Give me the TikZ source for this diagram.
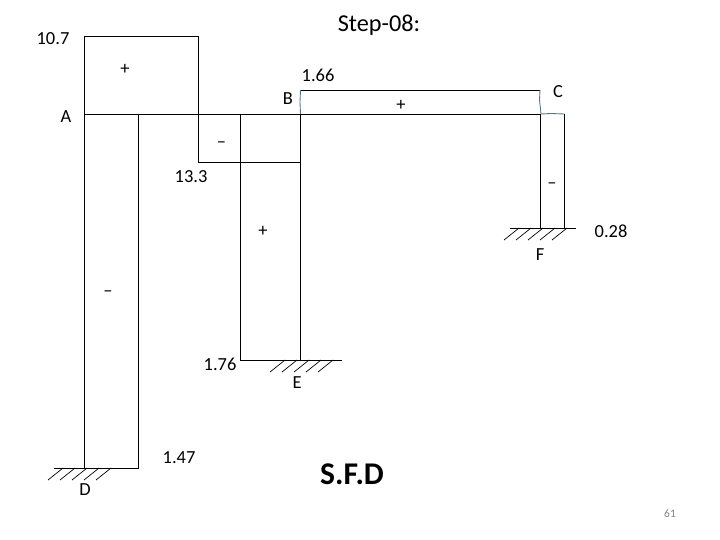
\documentclass[tikz,border=0pt]{standalone}
\usepackage{fontspec}
\setmainfont{Carlito}
\definecolor{wiggle}{RGB}{90,115,130}
\tikzset{
  lbl/.style={inner sep=0pt,font=\fontsize{10.5pt}{12pt}\selectfont},
  sgn/.style={inner sep=0pt,font=\fontsize{10.5pt}{12pt}\selectfont},
  diagram/.style={line width=0.55pt},
  hatch/.style={line width=0.4pt}
}
\newcommand{\groundhatch}[2]{% x of first stroke, y of the ground
  \foreach \i in {0,...,4}
    \draw[hatch] ({#1+12*\i},{#2+12}) -- ({#1+15+12*\i},#2);
}
\begin{document}
\begin{tikzpicture}[x=0.02cm,y=-0.02cm]
   \useasboundingbox (0,0) rectangle (720,540);

   % beam
   \draw[diagram] (84.5,114) -- (541,114);

   % diagram on AB
   \draw[diagram] (84.5,114) -- (84.5,36) -- (198.5,36) -- (198.5,162) -- (300.5,162);

   % column AD
   \draw[diagram] (84.5,114) -- (84.5,468) -- (138.5,468) -- (138.5,114);
   \draw[diagram] (54,468) -- (84.5,468);
   \groundhatch{48}{468}

   % column BE
   \draw[diagram] (240.5,114) -- (240.5,360) -- (342,360);
   \draw[diagram] (300.5,114) -- (300.5,360);
   \groundhatch{270}{360}

   % diagram on BC
   \draw[wiggle,line width=0.5pt] (300.5,114) -- (300,102) -- (300.5,90);
   \draw[diagram] (300.5,90) -- (540,90);
   \draw[wiggle,line width=0.5pt] (540,90) -- (539.5,100) -- (541,114) -- (551,113.5) -- (564.5,114);

   % column CF
   \draw[diagram] (540.5,114) -- (540.5,228);
   \draw[diagram] (564.5,114) -- (564.5,228);
   \draw[diagram] (510,228) -- (576,228);
   \groundhatch{504}{228}

   % labels
   \node[inner sep=0pt,font=\fontsize{13.8pt}{16pt}\selectfont] (title) at (379,25) {Step-08:};
   \node[lbl] (vA) at (53,39) {10.7};
   \node[lbl] (vB) at (318,75.5) {1.66};
   \node[lbl] (vM) at (191,177) {13.3};
   \node[lbl] (vF) at (611,231) {0.28};
   \node[lbl] (vE) at (220,364) {1.76};
   \node[lbl] (vD) at (179,458) {1.47};
   \node[lbl] (A) at (66,117) {A};
   \node[lbl] (B) at (288,98.5) {B};
   \node[lbl] (C) at (558,92) {C};
   \node[lbl] (D) at (85,490) {D};
   \node[lbl] (E) at (297,383) {E};
   \node[lbl] (F) at (540,255) {F};
   \node[sgn] (p1) at (125,69) {+};
   \node[sgn] (p2) at (401,105) {+};
   \node[sgn] (p3) at (263,231) {+};
   \node[sgn] (m1) at (221.5,144.5) {–};
   \node[sgn] (m2) at (552,186) {–};
   \node[sgn] (m3) at (108,294) {–};
   \node[inner sep=0pt,font=\fontsize{18pt}{20pt}\selectfont\bfseries] (sfd) at (352,474) {S.F.D};
   \node[inner sep=0pt,text=gray,font=\fontsize{6.5pt}{8pt}\selectfont] (page) at (670,514) {61};
\end{tikzpicture}
\end{document}
